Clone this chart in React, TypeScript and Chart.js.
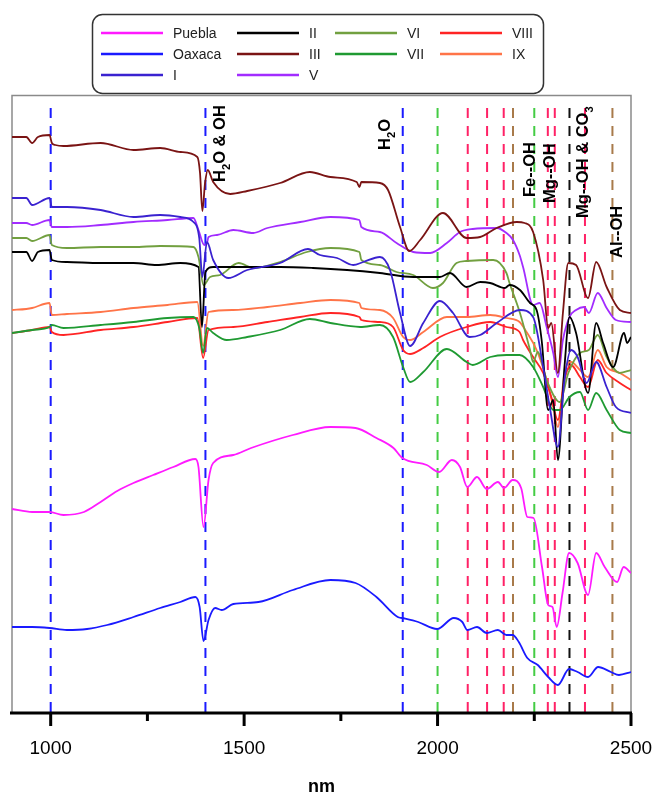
import React, { useEffect, useRef } from "react";
import { Chart, registerables } from "chart.js";
Chart.register(...registerables);

// ---------- data ----------
const xMajorTicks = [1000, 1500, 2000, 2500];
const xMinorTicks = [1250, 1750, 2250];

const seriesPuebla: number[][] = [[900,2.04],[952,2.01],[997,2.01],[1033,1.98],[1086,2.01],[1129,2.11],[1172,2.22],[1214,2.30],[1265,2.38],[1317,2.46],[1374,2.54],[1382,2.46],[1395,1.86],[1408,2.33],[1420,2.50],[1472,2.58],[1518,2.65],[1626,2.78],[1723,2.86],[1788,2.85],[1842,2.75],[1886,2.65],[1909,2.55],[1972,2.48],[2004,2.41],[2037,2.53],[2058,2.46],[2077,2.26],[2102,2.36],[2127,2.24],[2156,2.31],[2172,2.25],[2194,2.33],[2216,2.25],[2232,1.96],[2248,1.95],[2270,1.46],[2286,1.08],[2297,1.06],[2308,0.86],[2323,1.20],[2340,1.60],[2362,1.50],[2389,1.18],[2410,1.60],[2432,1.46],[2464,1.31],[2481,1.46],[2500,1.40]];
const seriesOaxaca: number[][] = [[900,0.86],[952,0.86],[997,0.85],[1042,0.83],[1094,0.84],[1146,0.88],[1214,0.96],[1283,1.05],[1335,1.11],[1374,1.16],[1385,1.06],[1395,0.72],[1408,0.93],[1425,1.05],[1442,1.03],[1472,1.09],[1537,1.11],[1626,1.23],[1723,1.33],[1788,1.30],[1842,1.16],[1897,0.96],[1909,0.95],[1950,0.91],[1999,0.84],[2042,0.95],[2064,0.91],[2077,0.83],[2102,0.86],[2127,0.80],[2156,0.83],[2178,0.78],[2194,0.78],[2210,0.71],[2232,0.55],[2259,0.48],[2286,0.36],[2311,0.28],[2340,0.44],[2362,0.41],[2389,0.36],[2415,0.46],[2448,0.41],[2469,0.38],[2500,0.41]];
const seriesI: number[][] = [[900,5.15],[937,5.15],[952,5.08],[997,5.15],[1003,5.06],[1042,5.06],[1129,5.03],[1214,4.96],[1283,4.98],[1335,4.96],[1369,4.91],[1384,4.75],[1392,4.36],[1404,4.71],[1420,4.53],[1459,4.35],[1508,4.43],[1593,4.50],[1665,4.64],[1696,4.58],[1740,4.55],[1782,4.48],[1808,4.51],[1851,4.56],[1877,4.43],[1903,4.00],[1929,3.67],[1963,3.90],[2006,4.12],[2040,4.00],[2083,3.76],[2110,3.78],[2153,3.90],[2213,4.03],[2247,3.96],[2273,3.46],[2290,3.06],[2311,2.66],[2328,3.33],[2345,3.63],[2362,3.56],[2385,3.30],[2410,3.51],[2437,3.26],[2461,3.06],[2500,3.00]];
const seriesII: number[][] = [[900,4.61],[937,4.61],[952,4.52],[967,4.61],[997,4.63],[1003,4.53],[1042,4.51],[1129,4.50],[1214,4.50],[1274,4.48],[1335,4.50],[1382,4.46],[1391,3.86],[1400,4.41],[1420,4.46],[1508,4.46],[1593,4.46],[1678,4.45],[1766,4.43],[1851,4.40],[1937,4.36],[2006,4.36],[2032,4.40],[2075,4.26],[2110,4.31],[2136,4.30],[2174,4.25],[2186,4.28],[2213,4.23],[2239,4.10],[2256,4.03],[2269,3.73],[2286,3.03],[2299,3.13],[2311,2.53],[2328,3.46],[2341,3.96],[2358,3.80],[2389,3.20],[2410,3.90],[2428,3.70],[2454,3.46],[2482,3.80],[2490,3.70],[2500,3.76]];
const seriesIII: number[][] = [[900,5.76],[937,5.76],[952,5.70],[967,5.76],[997,5.78],[1003,5.70],[1012,5.68],[1033,5.67],[1129,5.70],[1214,5.63],[1283,5.65],[1336,5.61],[1379,5.56],[1386,5.40],[1392,5.02],[1399,5.30],[1406,5.43],[1420,5.31],[1464,5.19],[1508,5.22],[1593,5.30],[1670,5.41],[1723,5.36],[1791,5.31],[1798,5.26],[1803,5.31],[1851,5.30],[1872,5.23],[1903,4.86],[1927,4.62],[1955,4.73],[2014,5.00],[2075,4.75],[2110,4.76],[2153,4.85],[2205,4.91],[2225,4.90],[2247,4.81],[2273,4.33],[2286,3.85],[2294,3.90],[2311,3.40],[2324,4.00],[2338,4.50],[2358,4.48],[2389,4.15],[2410,4.51],[2437,4.26],[2471,4.03],[2500,4.00]];
const seriesV: number[][] = [[900,4.90],[937,4.90],[952,4.88],[997,4.93],[1003,4.86],[1042,4.86],[1129,4.88],[1214,4.91],[1302,4.93],[1369,4.95],[1382,4.83],[1397,4.68],[1404,4.70],[1408,4.76],[1430,4.78],[1472,4.83],[1524,4.80],[1560,4.85],[1645,4.91],[1723,4.96],[1798,4.93],[1803,4.86],[1851,4.81],[1894,4.70],[1937,4.61],[1981,4.60],[2024,4.70],[2058,4.81],[2091,4.84],[2153,4.85],[2178,4.80],[2195,4.73],[2212,4.58],[2221,4.46],[2247,4.08],[2264,4.10],[2282,3.86],[2299,3.60],[2311,3.36],[2324,3.73],[2341,3.96],[2358,4.03],[2379,4.06],[2391,4.00],[2414,4.20],[2437,4.05],[2461,3.93],[2500,3.91]];
const seriesVI: number[][] = [[900,4.75],[937,4.75],[952,4.72],[997,4.78],[1003,4.68],[1042,4.65],[1129,4.66],[1214,4.66],[1283,4.67],[1369,4.66],[1382,4.56],[1395,4.28],[1412,4.36],[1438,4.38],[1486,4.50],[1524,4.45],[1593,4.51],[1662,4.61],[1723,4.65],[1798,4.61],[1803,4.53],[1851,4.48],[1894,4.41],[1937,4.38],[1988,4.25],[2014,4.30],[2049,4.50],[2075,4.52],[2144,4.53],[2178,4.40],[2186,4.30],[2213,4.00],[2239,3.63],[2247,3.51],[2259,3.61],[2282,3.33],[2316,3.11],[2338,3.40],[2368,3.60],[2391,3.63],[2414,3.78],[2437,3.56],[2471,3.40],[2500,3.43]];
const seriesVII: number[][] = [[900,3.80],[952,3.83],[997,3.86],[1003,3.88],[1033,3.85],[1129,3.88],[1214,3.91],[1302,3.95],[1369,3.96],[1384,3.85],[1394,3.60],[1404,3.85],[1420,3.80],[1455,3.73],[1508,3.76],[1593,3.83],[1670,3.94],[1723,3.90],[1800,3.86],[1851,3.88],[1885,3.76],[1911,3.46],[1929,3.31],[1963,3.41],[2024,3.64],[2075,3.51],[2091,3.48],[2136,3.56],[2178,3.58],[2212,3.58],[2247,3.46],[2273,3.26],[2299,3.03],[2316,3.03],[2341,3.16],[2368,3.21],[2389,3.03],[2410,3.20],[2437,3.03],[2471,2.83],[2500,2.80]];
const seriesVIII: number[][] = [[900,3.80],[952,3.83],[997,3.86],[1003,3.81],[1033,3.78],[1129,3.83],[1214,3.86],[1302,3.91],[1379,3.95],[1394,3.55],[1408,3.83],[1472,3.86],[1560,3.91],[1645,3.96],[1723,4.00],[1798,3.96],[1803,3.93],[1851,3.91],[1885,3.86],[1911,3.63],[1929,3.59],[1963,3.65],[2006,3.76],[2075,3.86],[2136,3.91],[2178,3.86],[2212,3.81],[2221,3.73],[2247,3.56],[2273,3.40],[2294,3.16],[2311,2.93],[2328,3.33],[2345,3.48],[2368,3.36],[2389,3.26],[2414,3.53],[2437,3.40],[2471,3.30],[2500,3.23]];
const seriesIX: number[][] = [[900,4.03],[937,4.04],[952,4.05],[997,4.10],[1003,3.98],[1042,3.99],[1129,4.01],[1214,4.05],[1302,4.08],[1379,4.11],[1394,3.67],[1408,4.01],[1472,4.03],[1560,4.06],[1645,4.10],[1723,4.13],[1798,4.10],[1803,4.05],[1851,4.03],[1885,3.95],[1911,3.76],[1929,3.73],[1963,3.81],[2024,3.96],[2075,3.96],[2136,3.98],[2178,3.95],[2212,3.91],[2230,3.81],[2256,3.63],[2282,3.33],[2299,3.06],[2311,2.86],[2328,3.40],[2345,3.51],[2368,3.43],[2389,3.36],[2414,3.63],[2437,3.46],[2471,3.40],[2500,3.33]];

const seriesNames = ["Puebla", "Oaxaca", "I", "II", "III", "V", "VI", "VII", "VIII", "IX"];
const seriesValues = [seriesPuebla, seriesOaxaca, seriesI, seriesII, seriesIII, seriesV, seriesVI, seriesVII, seriesVIII, seriesIX];
const seriesColors = ["#ff1aff", "#1a1aff", "#3a22d0", "#000000", "#7a1414", "#a22cff", "#72a040", "#1f9a32", "#ff2424", "#ff7448"];

const legendColumns = [["Puebla", "Oaxaca", "I"], ["II", "III", "V"], ["VI", "VII"], ["VIII", "IX"]];

// absorption band markers (nm)
const markerNm = [1000, 1400, 1910, 2000, 2078, 2128, 2171, 2195, 2250, 2285, 2303, 2341, 2381, 2452];
const markerColors = ["#1a1aff", "#1a1aff", "#1a1aff", "#44cc44", "#ff2266", "#ff2266", "#ff2266", "#a87a4a", "#44cc44", "#ff2266", "#ff2266", "#111111", "#ff2266", "#a87a4a"];
const markerTop = 6.05;

// band labels: text parts [text, isSubscript], nm of baseline, y-value where text starts
const bandLabels: { parts: [string, boolean][]; nm: number; y: number }[] = [
  { parts: [["H", false], ["2", true], ["O & OH", false]], nm: 1451, y: 5.31 },
  { parts: [["H", false], ["2", true], ["O", false]], nm: 1877, y: 5.63 },
  { parts: [["Fe--OH", false]], nm: 2251, y: 5.16 },
  { parts: [["Mg--OH", false]], nm: 2303, y: 5.10 },
  { parts: [["Mg--OH & CO", false], ["3", true]], nm: 2390, y: 4.95 },
  { parts: [["Al--OH", false]], nm: 2476, y: 4.55 },
];

const FONT = '"Liberation Sans", Arial, Helvetica, sans-serif';

const decorPlugin = {
  id: "decor",
  beforeDatasetsDraw(chart: any) {
    const { ctx, chartArea } = chart;
    ctx.save();
    ctx.strokeStyle = "#8a8a8a";
    ctx.lineWidth = 1.5;
    ctx.beginPath();
    ctx.moveTo(chartArea.left, chartArea.bottom);
    ctx.lineTo(chartArea.left, chartArea.top + 0.5);
    ctx.lineTo(chartArea.right, chartArea.top + 0.5);
    ctx.lineTo(chartArea.right, chartArea.bottom);
    ctx.stroke();
    ctx.restore();
  },
  afterDatasetsDraw(chart: any) {
    const { ctx, chartArea, scales } = chart;
    const xs = scales.x;
    const ys = scales.y;
    ctx.save();
    ctx.strokeStyle = "#000";
    ctx.lineWidth = 3;
    ctx.beginPath();
    ctx.moveTo(chartArea.left - 2, chartArea.bottom);
    ctx.lineTo(chartArea.right + 1, chartArea.bottom);
    ctx.stroke();
    for (const t of xMajorTicks) {
      const px = xs.getPixelForValue(t);
      ctx.beginPath();
      ctx.moveTo(px, chartArea.bottom);
      ctx.lineTo(px, chartArea.bottom + 13);
      ctx.stroke();
    }
    for (const t of xMinorTicks) {
      const px = xs.getPixelForValue(t);
      ctx.beginPath();
      ctx.moveTo(px, chartArea.bottom);
      ctx.lineTo(px, chartArea.bottom + 8);
      ctx.stroke();
    }
    ctx.fillStyle = "#000";
    ctx.font = `bold 18px ${FONT}`;
    ctx.textAlign = "center";
    ctx.textBaseline = "alphabetic";
    ctx.fillText("nm", (chartArea.left + chartArea.right) / 2, 792);

    const size = 16.5;
    for (const lab of bandLabels) {
      const px = xs.getPixelForValue(lab.nm);
      const py = ys.getPixelForValue(lab.y);
      ctx.save();
      ctx.translate(px, py);
      ctx.rotate(-Math.PI / 2);
      ctx.textAlign = "left";
      ctx.textBaseline = "alphabetic";
      let x = 0;
      for (const [t, sub] of lab.parts) {
        const fs = sub ? size * 0.68 : size;
        ctx.font = `bold ${fs}px ${FONT}`;
        ctx.fillText(t, x, sub ? size * 0.28 : 0);
        x += ctx.measureText(t).width;
      }
      ctx.restore();
    }
    ctx.restore();
  },
  afterDraw(chart: any) {
    const { ctx } = chart;
    ctx.save();
    ctx.fillStyle = "#fff";
    ctx.strokeStyle = "#333";
    ctx.lineWidth = 1.5;
    ctx.beginPath();
    (ctx as any).roundRect(92.5, 14.5, 451, 79, 10);
    ctx.fill();
    ctx.stroke();
    const colX = [101, 237, 335, 440];
    const rowY = [33, 54, 75];
    ctx.font = `14px ${FONT}`;
    ctx.textBaseline = "middle";
    ctx.textAlign = "left";
    legendColumns.forEach((col, ci) => {
      col.forEach((name, ri) => {
        const ds = chart.data.datasets.find((d: any) => d.label === name);
        const x = colX[ci];
        const y = rowY[ri];
        ctx.strokeStyle = ds ? ds.borderColor : "#000";
        ctx.lineWidth = 2.5;
        ctx.beginPath();
        ctx.moveTo(x, y);
        ctx.lineTo(x + 62, y);
        ctx.stroke();
        ctx.fillStyle = "#222";
        ctx.fillText(name, x + 72, y + 1);
      });
    });
    ctx.restore();
  },
};

export default function App() {
  const canvasRef = useRef<HTMLCanvasElement | null>(null);

  useEffect(() => {
    if (!canvasRef.current) return;
    const spectra = seriesNames.map((name, i) => ({
      label: name,
      data: seriesValues[i].map(([x, y]) => ({ x, y })),
      borderColor: seriesColors[i],
      backgroundColor: seriesColors[i],
      borderWidth: 1.8,
      pointRadius: 0,
      cubicInterpolationMode: "monotone" as const,
      fill: false,
    }));
    const markers = markerNm.map((nm, i) => ({
      label: "marker" + i,
      data: [
        { x: nm, y: markerTop },
        { x: nm, y: 0 },
      ],
      borderColor: markerColors[i],
      borderWidth: 2,
      borderDash: [10, 8],
      pointRadius: 0,
      fill: false,
    }));

    const chart = new Chart(canvasRef.current, {
      type: "line",
      data: { datasets: [...spectra, ...markers] as any },
      options: {
        animation: false,
        responsive: true,
        maintainAspectRatio: false,
        parsing: false as any,
        layout: { padding: { left: 12, right: 26, top: 95, bottom: 0 } },
        plugins: { legend: { display: false }, tooltip: { enabled: false } },
        scales: {
          x: {
            type: "linear",
            min: 900,
            max: 2500,
            position: "bottom",
            grid: { display: false, drawTicks: false },
            border: { display: false },
            ticks: {
              color: "#000",
              font: { size: 19, family: FONT },
              padding: 24,
              maxRotation: 0,
              autoSkip: false,
              callback: (v: any) => String(v),
            },
            afterBuildTicks: (axis: any) => {
              axis.ticks = xMajorTicks.map((v) => ({ value: v }));
            },
            afterFit: (axis: any) => {
              axis.height = 81;
              axis.paddingLeft = 0;
              axis.paddingRight = 0;
            },
          },
          y: {
            type: "linear",
            min: 0,
            max: 6.18,
            display: false,
          },
        },
      },
      plugins: [decorPlugin],
    });
    return () => chart.destroy();
  }, []);

  return (
    <div style={{ position: "absolute", left: 0, top: 0, width: 657, height: 794, background: "#fff" }}>
      <canvas ref={canvasRef} />
    </div>
  );
}
